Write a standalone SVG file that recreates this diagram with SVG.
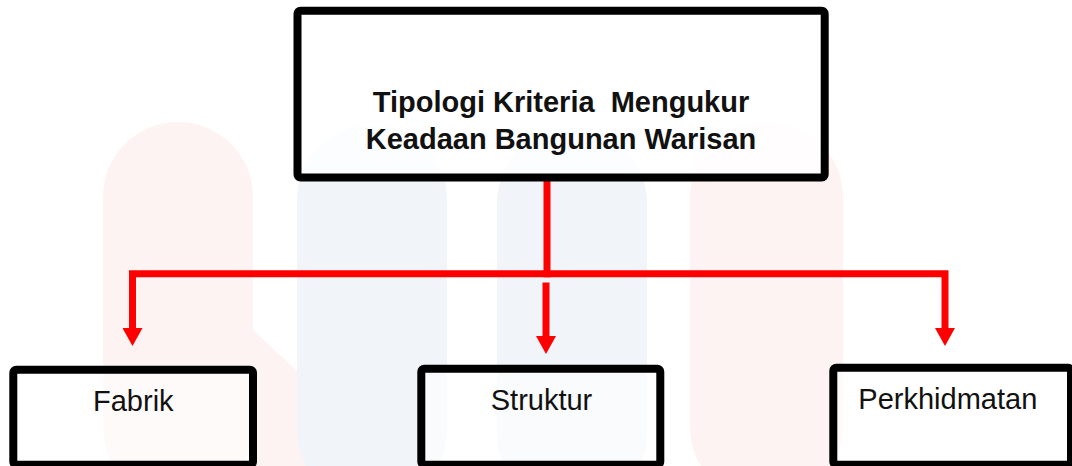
<svg xmlns="http://www.w3.org/2000/svg" width="1072" height="466" viewBox="0 0 1072 466">
  <style>
    .box-top { fill: #ffffff; fill-opacity: 0.8; stroke: #000000; stroke-width: 8; }
    .box-low { fill: #ffffff; fill-opacity: 0.6; stroke: #000000; stroke-width: 8; }
    .title { font-family: "Liberation Sans", Arial, sans-serif; font-size: 29px; font-weight: bold; fill: #111111; text-anchor: middle; }
    .label { font-family: "Liberation Sans", Arial, sans-serif; font-size: 29px; fill: #111111; text-anchor: middle; }
    .conn { fill: none; stroke: #ff0000; stroke-width: 7; stroke-linecap: butt; stroke-linejoin: miter; }
    .wm-pink { fill: #fef3f3; }
    .wm-blue { fill: #f1f5f9; }
  </style>
  <defs>
    <marker id="arrow" markerUnits="userSpaceOnUse" markerWidth="18" markerHeight="20" viewBox="0 0 18 20" refX="0" refY="10" orient="auto">
      <path d="M0,0 L18,10 L0,20 z" fill="#ff0000"/>
    </marker>
  </defs>

  <rect x="0" y="0" width="1072" height="466" fill="#ffffff"/>

  <g id="watermark">
    <rect class="wm-pink" x="103" y="122" width="150" height="380" rx="75"/>
    <polygon class="wm-pink" points="253,330 400,466 253,466"/>
    <rect class="wm-blue" x="297" y="125" width="150" height="380" rx="75"/>
    <rect class="wm-blue" x="497" y="128" width="150" height="380" rx="75"/>
    <rect class="wm-pink" x="690" y="122" width="153" height="380" rx="75"/>
  </g>

  <g id="connectors">
    <path class="conn" d="M547,181 V277.3"/>
    <path class="conn" d="M547,273.7 H132.5 V328" marker-end="url(#arrow)"/>
    <path class="conn" d="M547,273.7 H945 V328" marker-end="url(#arrow)"/>
    <path class="conn" d="M546,282.5 V336" marker-end="url(#arrow)"/>
  </g>

  <g id="node-root">
    <rect class="box-top" x="297.5" y="10.8" width="527.2" height="166.7" rx="3"/>
    <text class="title" x="561" y="111.7" xml:space="preserve">Tipologi Kriteria  Mengukur</text>
    <text class="title" x="561" y="149">Keadaan Bangunan Warisan</text>
  </g>

  <g id="node-fabrik">
    <rect class="box-low" x="13.3" y="369.8" width="239.7" height="95" rx="3"/>
    <text class="label" x="133.3" y="411">Fabrik</text>
  </g>

  <g id="node-struktur">
    <rect class="box-low" x="421.3" y="368.8" width="239" height="96" rx="3"/>
    <text class="label" x="541.5" y="410">Struktur</text>
  </g>

  <g id="node-perkhidmatan">
    <rect class="box-low" x="833.3" y="367.8" width="237.7" height="97" rx="3"/>
    <text class="label" x="947.8" y="408.5">Perkhidmatan</text>
  </g>
</svg>
